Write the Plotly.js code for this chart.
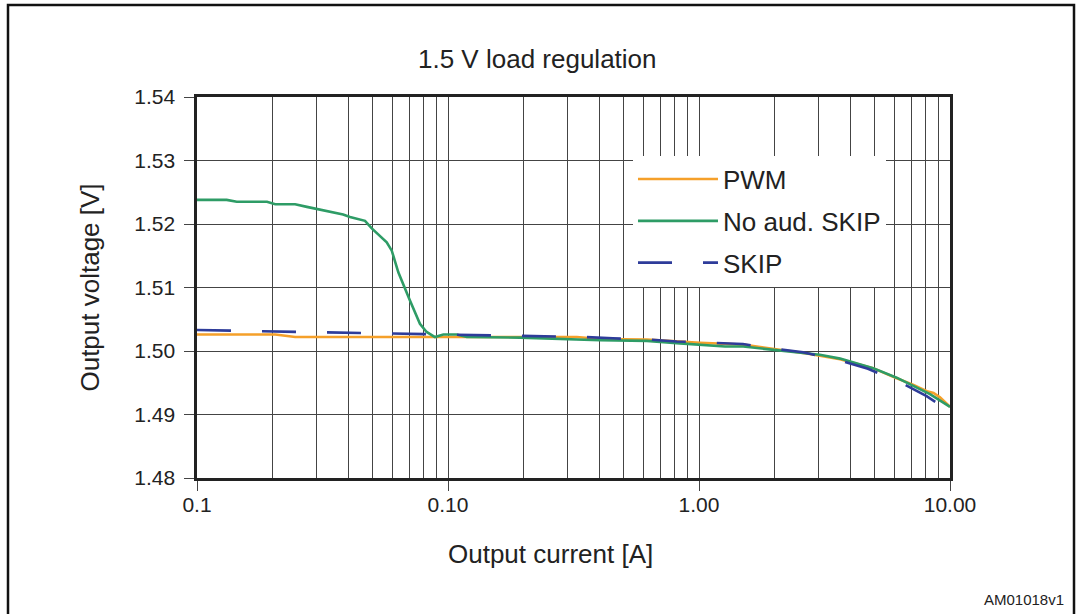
<!DOCTYPE html>
<html>
<head>
<meta charset="utf-8">
<script src="https://cdn.plot.ly/plotly-3.0.1.min.js"></script>
<style>html,body{margin:0;padding:0;background:#fff;}#chart{width:1080px;height:614px;}</style>
</head>
<body>
<div id="chart"></div>
<script>
// Output current [A] / Output voltage [V]
const pwmX = [0.01, 0.0205, 0.0246, 0.05, 0.1, 0.1936, 0.326, 0.404, 0.619, 0.84, 1.008, 1.496, 1.749, 1.972, 2.686, 3.645, 4.935, 6.13, 7.12, 8.17, 8.6, 9.12, 10];
const pwmY = [1.5026, 1.5026, 1.5022, 1.5022, 1.5023, 1.5023, 1.5022, 1.5019, 1.5018, 1.5015, 1.5013, 1.5010, 1.5006, 1.5004, 1.4996, 1.4987, 1.4973, 1.4957, 1.4947, 1.4936, 1.4934, 1.4927, 1.4912];

const noAudX = [0.01, 0.01313, 0.0144, 0.019, 0.0205, 0.0246, 0.0274, 0.0318, 0.0382, 0.0407, 0.0467, 0.0497, 0.057, 0.0597, 0.0634, 0.0706, 0.0773, 0.0822, 0.0887, 0.0958, 0.1083, 0.1188, 0.1936, 0.404, 0.62, 0.84, 1.0, 1.27, 1.5, 1.97, 3.03, 3.65, 4.94, 6.13, 8.32, 10];
const noAudY = [1.5238, 1.5238, 1.5235, 1.5235, 1.5231, 1.5231, 1.5227, 1.5222, 1.5215, 1.5211, 1.5205, 1.5193, 1.5171, 1.5158, 1.5124, 1.5079, 1.5043, 1.5030, 1.5022, 1.5026, 1.5026, 1.5022, 1.5021, 1.5017, 1.5016, 1.5012, 1.5010, 1.5007, 1.5007, 1.5002, 1.4994, 1.4988, 1.4973, 1.4958, 1.4932, 1.4912];

const skipX = [0.01, 0.019, 0.0318, 0.06, 0.1083, 0.1188, 0.1936, 0.352, 0.454, 0.63, 0.816, 1.124, 1.496, 2.04, 2.6, 3.645, 4.71, 6.32, 8.07, 9.12];
const skipY = [1.5033, 1.5031, 1.5029, 1.5027, 1.5025, 1.5025, 1.5024, 1.5022, 1.5020, 1.5018, 1.5015, 1.5013, 1.5011, 1.5003, 1.4998, 1.4985, 1.4972, 1.4951, 1.4929, 1.4915];

const xMajorVals = [0.01, 0.1, 1, 10];
const xMajorText = ['0.1', '0.10', '1.00', '10.00'];
const xMinorVals = [0.02,0.03,0.04,0.05,0.06,0.07,0.08,0.09,0.2,0.3,0.4,0.5,0.6,0.7,0.8,0.9,2,3,4,5,6,7,8,9];
const yTickVals = [1.48, 1.49, 1.50, 1.51, 1.52, 1.53, 1.54];

const FONT = 'Liberation Sans, Arial, Helvetica, sans-serif';
const TXT = '#222222';
const GRID = '#444444';

const traces = [
  {x: pwmX, y: pwmY, name: 'PWM', mode: 'lines', legendgroup: 'a',
   line: {color: '#F5A02A', width: 2.6}},
  {x: noAudX, y: noAudY, name: 'No aud. SKIP', mode: 'lines', legendgroup: 'b',
   line: {color: '#2E9C66', width: 2.6}},
  {x: skipX, y: skipY, name: 'SKIP', mode: 'lines', legendgroup: 'c',
   line: {color: '#2E3C9A', width: 2.6, dash: '34px,31px'}}
];

const layout = {
  width: 1080, height: 614,
  margin: {l: 197, r: 130, t: 97, b: 136},
  paper_bgcolor: '#ffffff', plot_bgcolor: '#ffffff',
  font: {family: FONT, color: TXT},
  showlegend: true,
  legend: {x: 0.579, y: 0.846, xanchor: 'left', yanchor: 'top', bgcolor: '#ffffff',
           borderwidth: 0, font: {family: FONT, size: 26, color: TXT},
           itemwidth: 80, traceorder: 'grouped', tracegroupgap: 5},
  xaxis: {
    type: 'log', range: [-2, 1],
    tickmode: 'array', tickvals: xMajorVals, ticktext: xMajorText,
    ticks: 'outside', ticklen: 10, tickcolor: '#444', tickwidth: 1,
    ticklabelstandoff: -4,
    tickfont: {family: FONT, size: 21, color: TXT},
    showgrid: true, gridcolor: GRID, gridwidth: 1,
    minor: {tickvals: xMinorVals, showgrid: true, gridcolor: GRID, gridwidth: 1, ticks: ''},
    showline: true, linecolor: '#222', linewidth: 2.6, mirror: true,
    zeroline: false, fixedrange: true
  },
  yaxis: {
    range: [1.48, 1.54], tickmode: 'array', tickvals: yTickVals, tickformat: '.2f',
    ticks: 'outside', ticklen: 10, tickcolor: '#444', tickwidth: 1,
    ticklabelstandoff: 5,
    tickfont: {family: FONT, size: 21, color: TXT},
    showgrid: true, gridcolor: GRID, gridwidth: 1,
    showline: true, linecolor: '#222', linewidth: 2.6, mirror: true,
    zeroline: false, fixedrange: true,
    title: {text: 'Output voltage [V]', font: {family: FONT, size: 26, color: TXT}, standoff: 28}
  },
  annotations: [
    {text: '1.5 V load regulation', xref: 'paper', yref: 'paper', x: (537-197)/753, y: (478-59)/381,
     xanchor: 'center', yanchor: 'middle', showarrow: false, font: {family: FONT, size: 26, color: TXT}},
    {text: 'Output current [A]', xref: 'paper', yref: 'paper', x: (550-197)/753, y: (478-554)/381,
     xanchor: 'center', yanchor: 'middle', showarrow: false, font: {family: FONT, size: 26, color: TXT}},
    {text: 'AM01018v1', xref: 'paper', yref: 'paper', x: (1066-197)/753, y: (478-599)/381,
     xanchor: 'right', yanchor: 'middle', showarrow: false, font: {family: FONT, size: 15, color: TXT}}
  ],
  shapes: [
    {type: 'rect', xref: 'paper', yref: 'paper', x0: (8-197)/753, x1: (1074-197)/753,
     y0: (478-700)/381, y1: (478-5)/381, line: {color: '#111', width: 2.5}, fillcolor: 'rgba(0,0,0,0)', layer: 'below'}
  ]
};

Plotly.newPlot('chart', traces, layout, {displayModeBar: false, staticPlot: true});
</script>
</body>
</html>
